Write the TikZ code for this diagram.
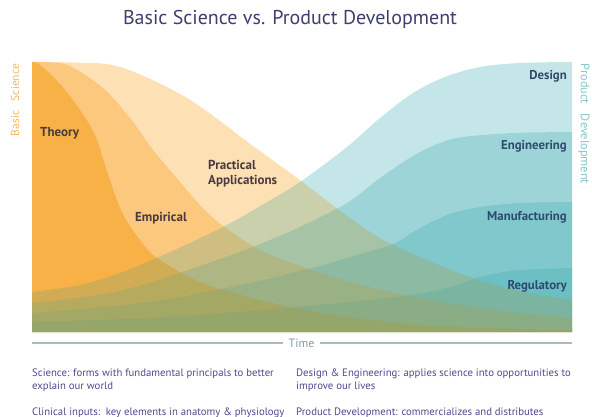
\documentclass[tikz,border=0pt]{standalone}
\usepackage{fontspec}
\setmainfont{PT Sans}
% base fills of the science layers, warmed again by a thin overlay on top
\definecolor{oLight}{HTML}{FEEBCC}
\definecolor{oMid}{HTML}{FDD9A5}
\definecolor{oDark}{HTML}{FBBF6A}
\definecolor{oGlaze}{HTML}{F79600}
\definecolor{tealLayer}{HTML}{3EACB2}
\definecolor{titleInk}{HTML}{3E3F6E}
\definecolor{noteInk}{HTML}{4D4A8C}
\definecolor{warmInk}{HTML}{4A3B3F}
\definecolor{coolInk}{HTML}{2F4A6E}
\definecolor{sciAxis}{HTML}{F6B75A}
\definecolor{devAxis}{HTML}{86C8CA}
\definecolor{timeInk}{HTML}{7E9E9E}
\definecolor{timeRule}{HTML}{A9BDB0}
\begin{document}
\begin{tikzpicture}[x=1pt,y=-1pt,
  sciarea/.style={fill=#1,draw=none},
  glaze/.style={fill=oGlaze,fill opacity=0.12,draw=none},
  devarea/.style={fill=tealLayer,fill opacity=0.3,draw=none},
  curve/.style={smooth,tension=0.55},
  warmlabel/.style={font=\bfseries\fontsize{13}{15}\selectfont,text=warmInk,inner sep=0pt},
  coollabel/.style={font=\bfseries\fontsize{12.8}{15}\selectfont,text=coolInk,inner sep=0pt,anchor=east},
  axislabel/.style={inner sep=0pt},
  note/.style={font=\fontsize{10.75}{13}\selectfont,text=noteInk,inner sep=0pt,anchor=base west},
  timeline/.style={draw=timeRule,line width=1.3pt}]
\useasboundingbox (0,0) rectangle (592,417);

% basic science layers (decreasing over time)
\path[save path=\areaPractical] (32,332) -- plot[curve] coordinates {(32,62) (70,62.5) (120,67) (187,98) (253,146) (297,178) (350,218) (393,245) (467,276) (520,291) (572,300)} -- (572,332) -- cycle;
\path[save path=\areaEmpirical] (32,332) -- plot[curve] coordinates {(32,62) (50,62.5) (70,66) (103,88) (130,118) (153,150) (180,182) (200,205) (223,226) (260,250) (300,266) (350,282) (420,298) (500,311) (572,318)} -- (572,332) -- cycle;
\path[save path=\areaTheory] (32,332) -- plot[curve] coordinates {(32,62) (40,65) (60,84) (80,110) (95,135) (105,165) (115,195) (125,218) (140,240) (157,258) (200,282) (260,300) (340,316) (440,326) (572,330)} -- (572,332) -- cycle;
\path[sciarea=oLight, use path=\areaPractical];
\path[sciarea=oMid, use path=\areaEmpirical];
\path[sciarea=oDark, use path=\areaTheory];

% product development layers (increasing over time)
\fill[devarea] (32,332) -- plot[curve] coordinates {(32,292) (80,285) (120,273) (170,252) (223,227) (262,205) (300,182) (347,147) (380,118) (413,93) (445,77) (480,67) (520,63) (572,62)} -- (572,332) -- cycle;
\fill[devarea] (32,332) -- plot[curve] coordinates {(32,303) (120,291) (223,258) (270,240) (300,227) (347,203) (380,178) (413,156) (440,143) (463,137) (513,133) (572,132)} -- (572,332) -- cycle;
\fill[devarea] (32,332) -- plot[curve] coordinates {(32,313) (150,302) (250,283) (320,266) (350,257) (393,244) (420,228) (450,214) (480,207) (520,203) (572,202)} -- (572,332) -- cycle;
\fill[devarea] (32,332) -- plot[curve] coordinates {(32,322) (150,318) (250,311) (350,302) (410,295) (450,287) (480,277) (510,271) (540,269) (572,268)} -- (572,332) -- cycle;

% warm glaze of the science layers over the development layers
\path[glaze, use path=\areaPractical];
\path[glaze, use path=\areaEmpirical];
\path[glaze, use path=\areaTheory];

% title
\node[font=\fontsize{20}{24}\selectfont,text=titleInk,inner sep=0pt] (title) at (290,19) {Basic Science vs. Product Development};

% layer labels
\node[warmlabel,anchor=west] (theory) at (40,133) {Theory};
\node[warmlabel] (empirical) at (161,218) {Empirical};
\node[warmlabel,anchor=west,align=left] (practical) at (208,173.5) {Practical\\Applications};
\node[coollabel] (design) at (567,76) {Design};
\node[coollabel] (engineering) at (567,146) {Engineering};
\node[coollabel] (manufacturing) at (567,217) {Manufacturing};
\node[coollabel] (regulatory) at (567,286) {Regulatory};

% side axes
\node[axislabel,font=\fontsize{11.5}{13}\selectfont,text=sciAxis,rotate=90] (sciaxis) at (15,100) {Basic\ \ \ Science};
\node[axislabel,font=\fontsize{12.3}{14}\selectfont,text=devAxis,rotate=-90] (devaxis) at (584,124) {Product\ \ \ Development};

% time axis
\node[font=\fontsize{12}{14}\selectfont,text=timeInk,inner sep=0pt] (time) at (301.5,343) {Time};
\coordinate (tstart) at (32,343);
\coordinate (tend) at (572,343);
\draw[timeline] (tstart) -- ([xshift=-5pt]time.west);
\draw[timeline] ([xshift=5pt]time.east) -- (tend);

% notes
\node[note] (n1a) at (32,376) {Science: forms with fundamental principals to better};
\node[note] (n1b) at (32,389) {explain our world};
\node[note] (n2) at (32,415) {Clinical inputs:\ \ key elements in anatomy \& physiology};
\node[note] (n3a) at (296,376) {Design \& Engineering: applies science into opportunities to};
\node[note] (n3b) at (296,389) {improve our lives};
\node[note] (n4) at (296,415) {Product Development: commercializes and distributes};
\end{tikzpicture}
\end{document}
